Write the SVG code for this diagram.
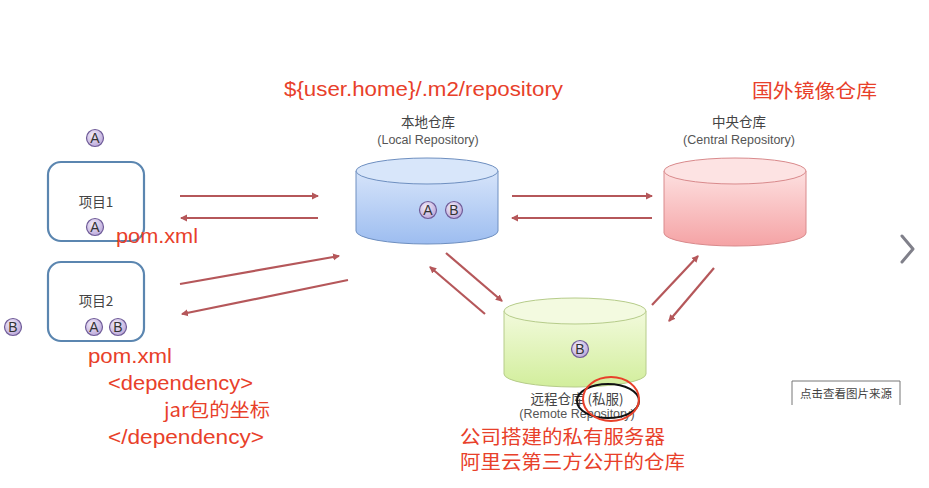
<svg xmlns="http://www.w3.org/2000/svg" width="929" height="488" viewBox="0 0 929 488">
<style>
.box{fill:#fff;stroke:#5b86b0;stroke-width:2.2}
.lbl{font-family:"Noto Sans CJK SC","Liberation Sans",sans-serif;font-size:13.5px;fill:#444;text-anchor:middle}
.sub{font-family:"Liberation Sans","Noto Sans CJK SC",sans-serif;font-size:12.5px;fill:#555;text-anchor:middle}
.red{font-family:"Liberation Sans","Noto Sans CJK SC",sans-serif;font-size:20px;fill:#e8402a}
.redc{font-family:"Noto Sans CJK SC","Liberation Sans",sans-serif;font-size:19px;fill:#e8402a}
.arr{stroke:#b5575a;stroke-width:2.2;fill:none;marker-end:url(#ah)}
.badge circle{fill:url(#bg);stroke:#6f5c98;stroke-width:1.2}
.badge text{font-family:"Liberation Sans",sans-serif;font-size:14px;fill:#333;text-anchor:middle}
</style>
<defs>
<marker id="ah" markerWidth="8" markerHeight="8" refX="6" refY="4" orient="auto" markerUnits="userSpaceOnUse">
<path d="M0,0.5 L7,4 L0,7.5 Z" fill="#b5575a"/>
</marker>
<radialGradient id="bg" cx="0.4" cy="0.35" r="0.7">
<stop offset="0" stop-color="#f4eefb"/><stop offset="1" stop-color="#b9a5d8"/>
</radialGradient>
<linearGradient id="gb" x1="0" y1="0" x2="0" y2="1"><stop offset="0" stop-color="#d6e4fa"/><stop offset="1" stop-color="#9dbdf0"/></linearGradient>
<linearGradient id="gr" x1="0" y1="0" x2="0" y2="1"><stop offset="0" stop-color="#fde0e0"/><stop offset="1" stop-color="#f5a3a5"/></linearGradient>
<linearGradient id="gg" x1="0" y1="0" x2="0" y2="1"><stop offset="0" stop-color="#f2fadc"/><stop offset="1" stop-color="#d2ee9c"/></linearGradient>
</defs>
<rect width="929" height="488" fill="#fff"/>

<g id="project1">
<rect class="box" x="48" y="162" width="96" height="79" rx="13"/>
<text class="lbl" x="96" y="207">项目1</text>
<g class="badge"><circle cx="95" cy="227" r="8.5"/><text x="95" y="232">A</text></g>
</g>
<g id="badgeA-top" class="badge"><circle cx="95" cy="138" r="8.5"/><text x="95" y="143">A</text></g>

<g id="project2">
<rect class="box" x="48" y="262" width="96" height="79" rx="13"/>
<text class="lbl" x="96" y="306">项目2</text>
<g class="badge"><circle cx="94" cy="327" r="8.5"/><text x="94" y="332">A</text></g>
<g class="badge"><circle cx="118" cy="327" r="8.5"/><text x="118" y="332">B</text></g>
</g>
<g id="badgeB-left" class="badge"><circle cx="13" cy="327" r="8.5"/><text x="13" y="332">B</text></g>

<g id="local">
<path d="M356,171 L356,231 A71,13 0 0 0 498,231 L498,171 Z" fill="url(#gb)" stroke="#6e8fc0" stroke-width="1"/>
<ellipse cx="427" cy="171" rx="71" ry="13" fill="#d8e6fa" stroke="#6e8fc0" stroke-width="1"/>
<text class="lbl" x="428" y="127">本地仓库</text>
<text class="sub" x="428" y="144">(Local Repository)</text>
<g class="badge"><circle cx="428" cy="210" r="8.5"/><text x="428" y="215">A</text></g>
<g class="badge"><circle cx="454" cy="210" r="8.5"/><text x="454" y="215">B</text></g>
</g>

<g id="central">
<path d="M664,171 L664,233 A71,13 0 0 0 806,233 L806,171 Z" fill="url(#gr)" stroke="#d98a8c" stroke-width="1"/>
<ellipse cx="735" cy="171" rx="71" ry="13" fill="#fde3e3" stroke="#d98a8c" stroke-width="1"/>
<text class="lbl" x="739" y="127">中央仓库</text>
<text class="sub" x="739" y="144">(Central Repository)</text>
</g>

<g id="remote">
<path d="M504,311 L504,374 A71,13 0 0 0 646,374 L646,311 Z" fill="url(#gg)" stroke="#b6cc8a" stroke-width="1"/>
<ellipse cx="575" cy="311" rx="71" ry="13" fill="#f3fae0" stroke="#b6cc8a" stroke-width="1"/>
<g class="badge"><circle cx="580" cy="349" r="8.5"/><text x="580" y="354">B</text></g>
<text class="lbl" x="577" y="404">远程仓库 (私服)</text>
<text class="sub" x="577" y="418" font-size="11.5px">(Remote Repository)</text>
<ellipse cx="608" cy="401" rx="31" ry="17" fill="none" stroke="#111" stroke-width="2"/>
<ellipse cx="611" cy="399" rx="28" ry="22" fill="none" stroke="#e8402a" stroke-width="2"/>
</g>

<g id="connectors">
<line class="arr" x1="180" y1="196" x2="318" y2="196"/>
<line class="arr" x1="318" y1="218" x2="181" y2="218"/>
<line class="arr" x1="180" y1="284" x2="339" y2="256"/>
<line class="arr" x1="348" y1="280" x2="182" y2="314"/>
<line class="arr" x1="512" y1="196" x2="652" y2="196"/>
<line class="arr" x1="652" y1="218" x2="512" y2="218"/>
<line class="arr" x1="446" y1="253" x2="502" y2="301"/>
<line class="arr" x1="485" y1="314" x2="430" y2="267"/>
<line class="arr" x1="652" y1="305" x2="698" y2="256"/>
<line class="arr" x1="714" y1="268" x2="669" y2="321"/>
</g>

<g id="annotations">
<text class="red" x="284" y="96" textLength="279" lengthAdjust="spacingAndGlyphs">${user.home}/.m2/repository</text>
<text class="redc" x="752" y="98" textLength="125" lengthAdjust="spacingAndGlyphs">国外镜像仓库</text>
<text class="red" x="116" y="243" textLength="82" lengthAdjust="spacingAndGlyphs">pom.xml</text>
<text class="red" x="88" y="363" textLength="84" lengthAdjust="spacingAndGlyphs">pom.xml</text>
<text class="red" x="108" y="390" textLength="145" lengthAdjust="spacingAndGlyphs">&lt;dependency&gt;</text>
<text class="redc" x="164" y="417" textLength="106" lengthAdjust="spacingAndGlyphs">jar包的坐标</text>
<text class="red" x="108" y="444" textLength="156" lengthAdjust="spacingAndGlyphs">&lt;/dependency&gt;</text>
<text class="redc" x="460" y="444" textLength="205" lengthAdjust="spacingAndGlyphs">公司搭建的私有服务器</text>
<text class="redc" x="460" y="469" textLength="225" lengthAdjust="spacingAndGlyphs">阿里云第三方公开的仓库</text>
</g>

<g id="source-button">
<path d="M792,405 L792,381 L900,381 L900,405" fill="#fff" stroke="#777" stroke-width="1"/>
<text x="846" y="398" font-family="Noto Sans CJK SC,sans-serif" font-size="11.5" fill="#444" text-anchor="middle">点击查看图片来源</text>
</g>
<path id="chevron" d="M902,236 L913,249 L902,262" fill="none" stroke="#80808a" stroke-width="3" stroke-linecap="round" stroke-linejoin="round"/>
</svg>
